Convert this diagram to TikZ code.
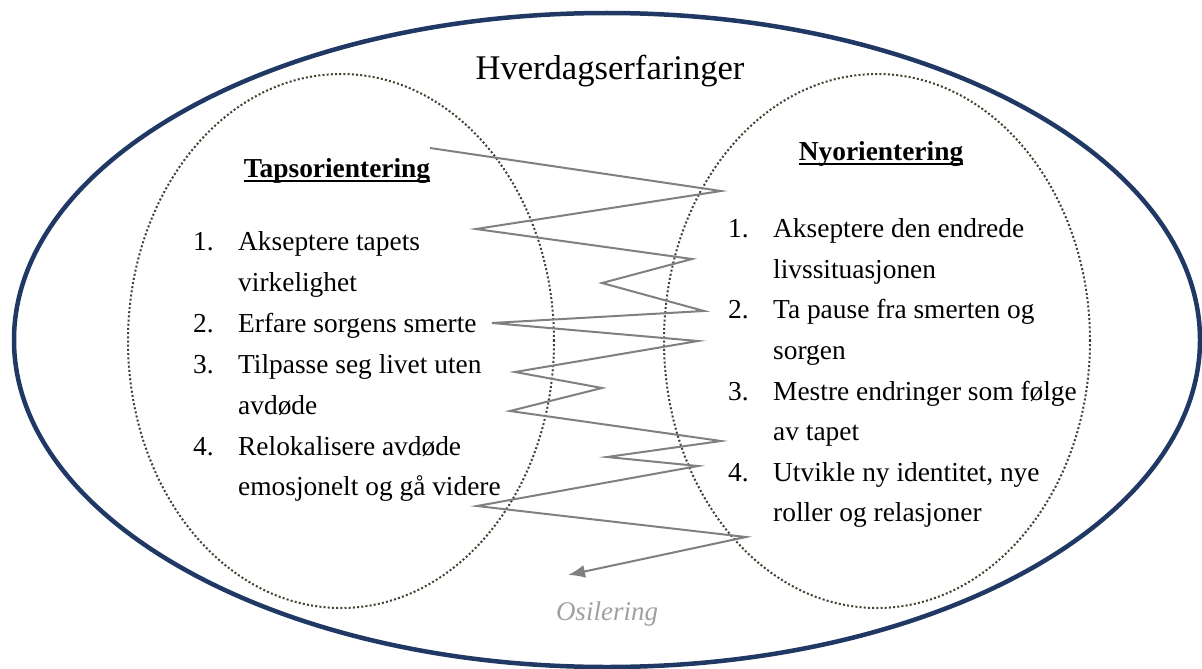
\documentclass[tikz,border=0pt]{standalone}
\usepackage{fontspec}
\setmainfont{Liberation Serif}
\usetikzlibrary{arrows.meta,shapes.geometric}
\definecolor{navy}{RGB}{31,56,100}
\definecolor{dotc}{RGB}{70,64,48}
\definecolor{oscc}{RGB}{128,128,128}
\definecolor{lblc}{RGB}{160,160,160}
\begin{document}
\begin{tikzpicture}[x=1pt,y=-1pt,
  txt/.style={anchor=base west,inner sep=0pt,font=\fontsize{27.4}{33}\selectfont},
  head/.style={anchor=base,inner sep=0pt,font=\fontsize{27.4}{33}\selectfont\bfseries},
  outerell/.style={ellipse,draw=navy,line width=4.5pt,inner sep=0pt},
  innerell/.style={ellipse,draw=dotc,line width=2pt,dash pattern=on 2pt off 2.2pt,inner sep=0pt,minimum width=426pt,minimum height=534pt},
  osc/.style={draw=oscc,line width=2pt},
  ul/.style={line width=1.8pt}
]
\useasboundingbox (0,0) rectangle (1202,669);
\fill[white] (0,0) rectangle (1202,669);

\node[outerell,minimum width=1186pt,minimum height=654pt] (outer) at (607,340) {};
\node[innerell] (left) at (341,341) {};
\node[innerell] (right) at (877,341) {};

\node[anchor=base,inner sep=0pt,font=\fontsize{34.6}{40}\selectfont] (title) at (610,80) {Hverdagserfaringer};

\node[head] (lh) at (337,177) {Tapsorientering};
\draw[ul] ([yshift=-4pt]lh.base west) -- ([yshift=-4pt]lh.base east);
\node[head] (rh) at (881,160) {Nyorientering};
\draw[ul] ([yshift=-4pt]rh.base west) -- ([yshift=-4pt]rh.base east);

% left list
\node[txt] (ln1) at (193,250) {1.};
\node[txt] (la1) at (238,250) {Akseptere tapets};
\node[txt] (lb1) at (238,291) {virkelighet};
\node[txt] (ln2) at (193,332) {2.};
\node[txt] (la2) at (238,332) {Erfare sorgens smerte};
\node[txt] (ln3) at (193,373) {3.};
\node[txt] (la3) at (238,373) {Tilpasse seg livet uten};
\node[txt] (lb3) at (238,414) {avdøde};
\node[txt] (ln4) at (193,455) {4.};
\node[txt] (la4) at (238,455) {Relokalisere avdøde};
\node[txt] (lb4) at (238,495) {emosjonelt og gå videre};

% right list
\node[txt] (rn1) at (728,237) {1.};
\node[txt] (ra1) at (773,237) {Akseptere den endrede};
\node[txt] (rb1) at (773,278) {livssituasjonen};
\node[txt] (rn2) at (728,318) {2.};
\node[txt] (ra2) at (773,318) {Ta pause fra smerten og};
\node[txt] (rb2) at (773,359) {sorgen};
\node[txt] (rn3) at (728,400) {3.};
\node[txt] (ra3) at (773,400) {Mestre endringer som følge};
\node[txt] (rb3) at (773,440) {av tapet};
\node[txt] (rn4) at (728,481) {4.};
\node[txt] (ra4) at (773,481) {Utvikle ny identitet, nye};
\node[txt] (rb4) at (773,521) {roller og relasjoner};

% oscillation
\coordinate (z1) at (430,148);
\coordinate (z2) at (721,191);
\coordinate (z3) at (476,229);
\coordinate (z4) at (692,259);
\coordinate (z5) at (602,283);
\coordinate (z6) at (704,311);
\coordinate (z7) at (492,323);
\coordinate (z8) at (698,341);
\coordinate (z9) at (515,372);
\coordinate (z10) at (602,388);
\coordinate (z11) at (510,411);
\coordinate (z12) at (721,441);
\coordinate (z13) at (607,457);
\coordinate (z14) at (698,466);
\coordinate (z15) at (477,506);
\coordinate (z16) at (746,537);
\coordinate (tip) at (568,575);
\draw[osc,-{Latex[length=17pt,width=13pt]}] (z1) -- (z2) -- (z3) -- (z4) -- (z5) -- (z6) -- (z7) -- (z8) -- (z9) -- (z10) -- (z11) -- (z12) -- (z13) -- (z14) -- (z15) -- (z16) -- (tip);

\node[anchor=base,inner sep=0pt,text=lblc,font=\fontsize{27}{33}\selectfont\itshape] (osil) at (607,620) {Osilering};
\end{tikzpicture}
\end{document}
